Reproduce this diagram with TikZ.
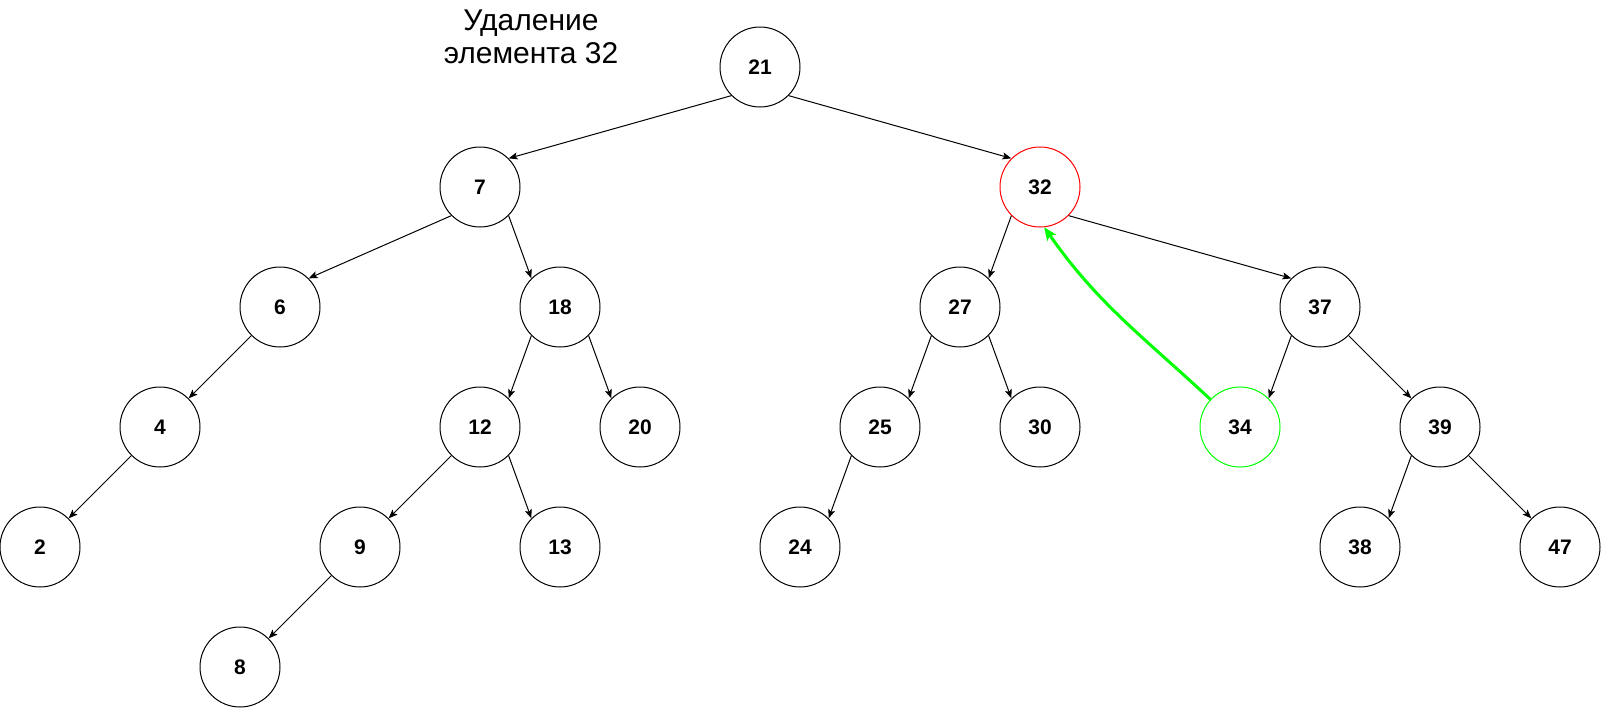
\documentclass[tikz,border=0pt]{standalone}
\usepackage{fontspec}
\setmainfont{Liberation Sans}
\usepackage{xcolor}
\usetikzlibrary{arrows.meta}
\definecolor{delred}{HTML}{FF0000}
\definecolor{repgreen}{HTML}{00FF00}

\begin{document}
\begin{tikzpicture}[x=1pt,y=-1pt,
    vert/.style={circle, draw, line width=1pt, minimum size=80pt, inner sep=0pt, font=\fontsize{21}{25}\selectfont\bfseries},
    edge/.style={-{Stealth[length=9pt,width=7pt,inset=2pt]}, line width=1pt}]
    \useasboundingbox (0,0) rectangle (1601,707);
    % title
    \node[align=center, font=\fontsize{30}{33}\selectfont] (title) at (531,37) {Удаление\\элемента 32};
    % tree
    \node[vert] (n21) at (760,67) {21};
    \node[vert] (n7) at (480,187) {7};
    \node[vert, draw=delred] (n32) at (1040,187) {32};
    \node[vert] (n6) at (280,307) {6};
    \node[vert] (n18) at (560,307) {18};
    \node[vert] (n27) at (960,307) {27};
    \node[vert] (n37) at (1320,307) {37};
    \node[vert] (n4) at (160,427) {4};
    \node[vert] (n12) at (480,427) {12};
    \node[vert] (n20) at (640,427) {20};
    \node[vert] (n25) at (880,427) {25};
    \node[vert] (n30) at (1040,427) {30};
    \node[vert, draw=repgreen] (n34) at (1240,427) {34};
    \node[vert] (n39) at (1440,427) {39};
    \node[vert] (n2) at (40,547) {2};
    \node[vert] (n9) at (360,547) {9};
    \node[vert] (n13) at (560,547) {13};
    \node[vert] (n24) at (800,547) {24};
    \node[vert] (n38) at (1360,547) {38};
    \node[vert] (n47) at (1560,547) {47};
    \node[vert] (n8) at (240,667) {8};
    % edges: left child 225 -> 45, right child 315 -> 135
    \draw[edge] (n21.225) -- (n7.45);
    \draw[edge] (n21.-45) -- (n32.135);
    \draw[edge] (n7.225) -- (n6.45);
    \draw[edge] (n7.-45) -- (n18.135);
    \draw[edge] (n6.225) -- (n4.45);
    \draw[edge] (n4.225) -- (n2.45);
    \draw[edge] (n18.225) -- (n12.45);
    \draw[edge] (n18.-45) -- (n20.135);
    \draw[edge] (n12.225) -- (n9.45);
    \draw[edge] (n12.-45) -- (n13.135);
    \draw[edge] (n9.225) -- (n8.45);
    \draw[edge] (n32.225) -- (n27.45);
    \draw[edge] (n32.-45) -- (n37.135);
    \draw[edge] (n27.225) -- (n25.45);
    \draw[edge] (n27.-45) -- (n30.135);
    \draw[edge] (n25.225) -- (n24.45);
    \draw[edge] (n37.225) -- (n34.45);
    \draw[edge] (n37.-45) -- (n39.135);
    \draw[edge] (n39.225) -- (n38.45);
    \draw[edge] (n39.-45) -- (n47.135);
    % replacement
    \draw[-{Stealth[length=13pt,width=11pt,inset=3pt]}, repgreen, line width=3pt] (n34.137) to[out=137, in=-55] (n32.276);
\end{tikzpicture}
\end{document}
